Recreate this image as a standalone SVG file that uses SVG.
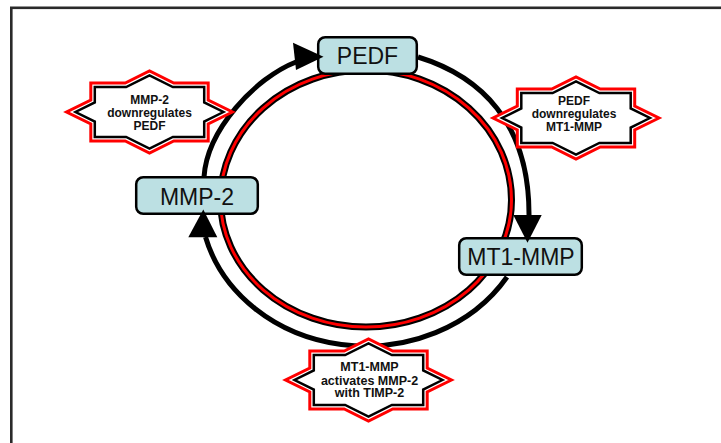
<svg xmlns="http://www.w3.org/2000/svg" xmlns:xlink="http://www.w3.org/1999/xlink" width="721" height="443" viewBox="0 0 721 443">
  <style>
    .box { fill: #bce0e3; stroke: #000; stroke-width: 2.5; }
    .boxtxt { font-family: "Liberation Sans", Arial, sans-serif; font-size: 23px; fill: #111; text-anchor: middle; }
    .startxt { font-family: "Liberation Sans", Arial, sans-serif; font-size: 12px; font-weight: bold; fill: #111; text-anchor: middle; }
    .big { font-size: 12.5px; }
    .arc { fill: none; stroke: #000; stroke-width: 5; }
    .head { fill: #000; stroke: none; }
    .sOut { fill: #fff; stroke: #ff0000; stroke-width: 3; stroke-linejoin: miter; }
    .sIn { fill: #fff; stroke: #000; stroke-width: 2.5; stroke-linejoin: miter; }
  </style>
  <defs>
    <path id="ringPath" d="M220.5,200 A145.5,130 0 0,1 511.5,200 A145.5,127 0 0,1 220.5,200 Z"/>
    <polygon id="starOuter" points="83,0 58.7,12 58.7,29 24.3,29 0,41 -24.3,29 -58.7,29 -58.7,12 -83,0 -58.7,-12 -58.7,-29 -24.3,-29 0,-41 24.3,-29 58.7,-29 58.7,-12"/>
    <polygon id="starInner" points="73.97,0 54.7,9.51 54.7,25 23.37,25 0,36.54 -23.37,25 -54.7,25 -54.7,9.51 -73.97,0 -54.7,-9.51 -54.7,-25 -23.37,-25 0,-36.54 23.37,-25 54.7,-25 54.7,-9.51"/>
  </defs>

  <rect x="0" y="0" width="721" height="443" fill="#fff"/>
  <rect id="frame" x="11.3" y="7.8" width="740" height="460" fill="none" stroke="#2a2a2a" stroke-width="2.6"/>

  <g id="ring">
    <use xlink:href="#ringPath" fill="none" stroke="#000" stroke-width="7"/>
    <use xlink:href="#ringPath" fill="none" stroke="#ff0000" stroke-width="3"/>
  </g>

  <g id="node-pedf">
    <rect class="box" x="318.2" y="37.2" width="98.6" height="36.6" rx="7"/>
    <text class="boxtxt" x="367.5" y="64.3">PEDF</text>
  </g>
  <g id="node-mmp2">
    <rect class="box" x="136.2" y="177.2" width="121.6" height="36.6" rx="7"/>
    <text class="boxtxt" x="197" y="205">MMP-2</text>
  </g>
  <g id="node-mt1mmp">
    <rect class="box" x="459.2" y="238.2" width="122.6" height="36.6" rx="7"/>
    <text class="boxtxt" x="521" y="265">MT1-MMP</text>
  </g>

  <g id="connectors">
    <path class="arc" d="M204,177 C207,130 255,78 296,62"/>
    <polygon class="head" points="293,42.7 296,70 323.5,56.7"/>
    <path class="arc" d="M418,57 C480,76 530,122 529,217"/>
    <polygon class="head" points="513.3,215 541.7,215 527.5,242.7"/>
    <path class="arc" d="M507,277 A166,146.5 0 0,1 205.5,237"/>
    <polygon class="head" points="188.3,237.3 217.3,237.3 203.3,209.5"/>
  </g>

  <g id="star-mmp2-pedf" transform="translate(149.5,112)">
    <use xlink:href="#starOuter" class="sOut"/>
    <use xlink:href="#starInner" class="sIn"/>
    <text class="startxt" x="0" y="-8.5">MMP-2</text>
    <text class="startxt" x="0" y="4.5">downregulates</text>
    <text class="startxt" x="0" y="17.5">PEDF</text>
  </g>
  <g id="star-pedf-mt1mmp" transform="translate(576,118)">
    <use xlink:href="#starOuter" class="sOut"/>
    <use xlink:href="#starInner" class="sIn"/>
    <text class="startxt" x="-2" y="-12.7">PEDF</text>
    <text class="startxt" x="-2" y="0">downregulates</text>
    <text class="startxt" x="-2" y="12.5">MT1-MMP</text>
  </g>
  <g id="star-mt1mmp-mmp2" transform="translate(368.5,380)">
    <use xlink:href="#starOuter" class="sOut"/>
    <use xlink:href="#starInner" class="sIn"/>
    <text class="startxt big" x="1" y="-8.7">MT1-MMP</text>
    <text class="startxt big" x="1" y="4.5">activates MMP-2</text>
    <text class="startxt big" x="1" y="17.3">with TIMP-2</text>
  </g>
</svg>
